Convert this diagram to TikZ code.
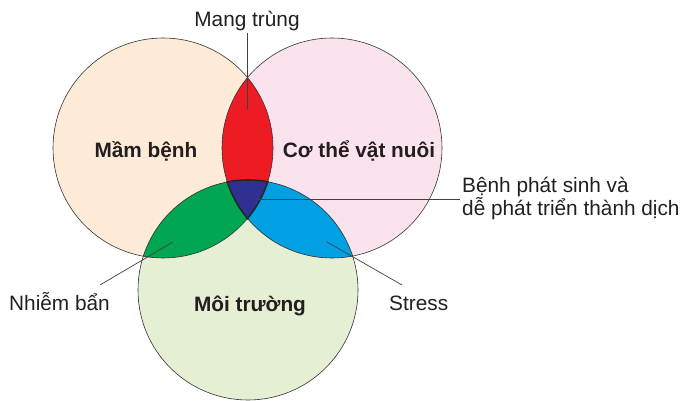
\documentclass[tikz,border=0pt]{standalone}
\usepackage{fontspec}
\setmainfont{Liberation Sans}
\definecolor{cpeach}{HTML}{FDEBD7}
\definecolor{cpink}{HTML}{FBE3EE}
\definecolor{clgreen}{HTML}{E4EFD3}
\definecolor{cred}{HTML}{ED1C24}
\definecolor{cgreen}{HTML}{00A651}
\definecolor{cblue}{HTML}{00A0E2}
\definecolor{cnavy}{HTML}{2E3192}
\definecolor{ctext}{HTML}{231F20}
\begin{document}
\begin{tikzpicture}[x=1pt,y=-1pt,
  lbl/.style={font=\fontsize{20.8}{22}\selectfont, inner sep=0pt, text=ctext},
  blbl/.style={font=\fontsize{20.8}{22}\selectfont\bfseries, inner sep=0pt, text=ctext},
  ring/.style={draw=black!80, line width=0.6pt},
  rim/.style={draw=black!85, line width=1.6pt},
  leader/.style={draw=black!75, line width=0.7pt}]
\useasboundingbox (0,0) rectangle (686,401);
\def\cR{110pt}
\coordinate (L) at (163,148);
\coordinate (R) at (332,148);
\coordinate (B) at (248,290);
% base fills
\fill[cpeach] (L) circle[radius=\cR];
\fill[cpink] (R) circle[radius=\cR];
\fill[clgreen] (B) circle[radius=\cR];
% pairwise intersections
\begin{scope}
  \clip (L) circle[radius=\cR];
  \fill[cred] (R) circle[radius=\cR];
\end{scope}
\begin{scope}
  \clip (L) circle[radius=\cR];
  \fill[cgreen] (B) circle[radius=\cR];
\end{scope}
\begin{scope}
  \clip (R) circle[radius=\cR];
  \fill[cblue] (B) circle[radius=\cR];
\end{scope}
% triple intersection
\begin{scope}
  \clip (L) circle[radius=\cR];
  \clip (R) circle[radius=\cR];
  \fill[cnavy] (B) circle[radius=\cR];
\end{scope}
% outlines
\draw[ring] (L) circle[radius=\cR];
\draw[ring] (R) circle[radius=\cR];
\draw[ring] (B) circle[radius=\cR];
% thick rim of the triple region
\begin{scope}
  \clip (L) circle[radius=\cR+0.8pt];
  \clip (R) circle[radius=\cR+0.8pt];
  \draw[rim] (B) circle[radius=\cR];
\end{scope}
\begin{scope}
  \clip (L) circle[radius=\cR+0.8pt];
  \clip (B) circle[radius=\cR+0.8pt];
  \draw[rim] (R) circle[radius=\cR];
\end{scope}
\begin{scope}
  \clip (R) circle[radius=\cR+0.8pt];
  \clip (B) circle[radius=\cR+0.8pt];
  \draw[rim] (L) circle[radius=\cR];
\end{scope}
% bold labels
\node[blbl, anchor=base] (mam) at (146,158) {Mầm bệnh};
\node[blbl, anchor=base] (co) at (359,158) {Cơ thể vật nuôi};
\node[blbl, anchor=base] (moi) at (250,311) {Môi trường};
% leader targets
\coordinate (redpt) at (247,110);
\coordinate (navypt) at (254,199);
\coordinate (greenpt) at (173,242);
\coordinate (bluept) at (327,242);
% outer labels
\node[lbl, anchor=base] (mang) at (247,27) {Mang trùng};
\node[lbl, anchor=base west] (benh1) at (462,193) {Bệnh phát sinh và};
\node[lbl, anchor=base west] (benh2) at (462,215) {dễ phát triển thành dịch};
\node[lbl, anchor=base west] (nhiem) at (9,310) {Nhiễm bẩn};
\node[lbl, anchor=base west] (stress) at (389,310) {Stress};
\coordinate (benhend) at (460,199);
\coordinate (nhiemend) at (100,285);
\coordinate (stressend) at (402,285);
% leaders
\draw[leader] ([yshift=-1.5pt]mang.south) -- (redpt);
\draw[leader] (navypt) -- (benhend);
\draw[leader] (greenpt) -- (nhiemend);
\draw[leader] (bluept) -- (stressend);
\end{tikzpicture}
\end{document}
